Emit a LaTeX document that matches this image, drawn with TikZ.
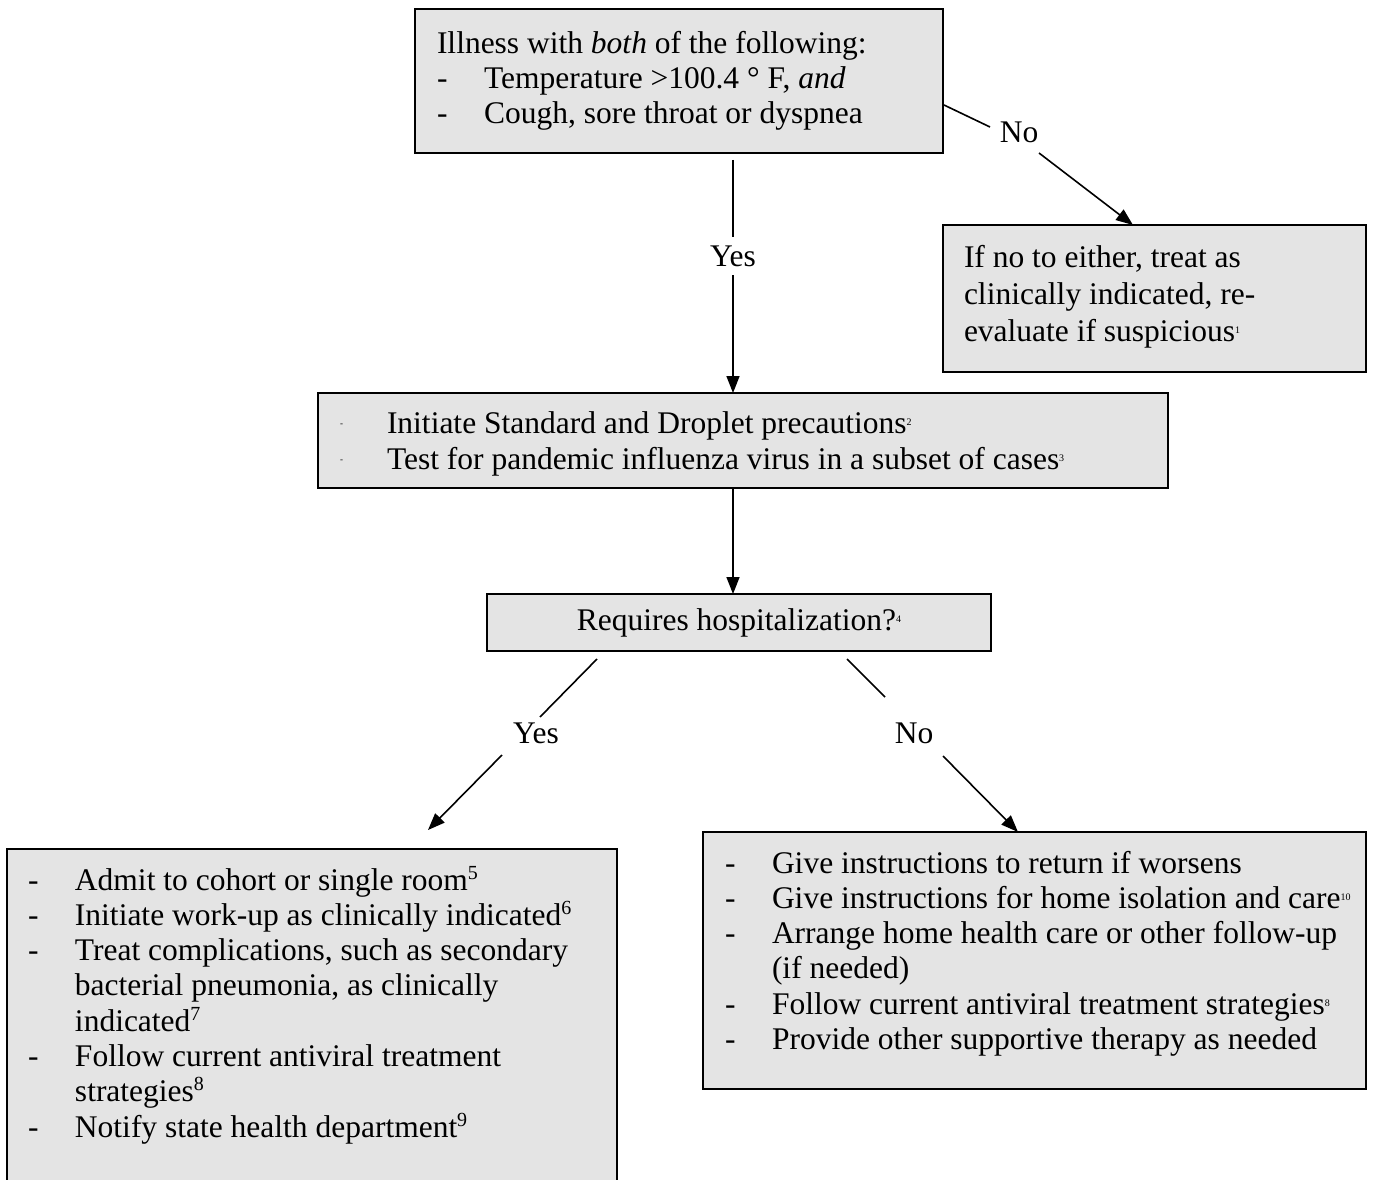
\documentclass[tikz,border=0pt]{standalone}
\usepackage{fontspec}
\setmainfont{Liberation Serif}
\usetikzlibrary{arrows.meta}
\definecolor{boxgray}{RGB}{228,228,228}
\newcommand\smsup[1]{\raisebox{8pt}{\fontsize{10}{10}\selectfont #1}}
\newcommand\bgsup[1]{\raisebox{11pt}{\fontsize{20}{20}\selectfont #1}}
\newcommand\itm{\makebox[47pt][l]{-}}
\newcommand\cnt{\hspace*{47pt}}
\newcommand\dotitm{\makebox[47pt][l]{\raisebox{7pt}{\fontsize{9}{9}\selectfont -}}}
\newcommand\firstl[1]{\rule{0pt}{#1pt}}
% width, height, left pad, line pitch, content
\newcommand\boxtext[5]{\begin{minipage}[t][#2][t]{#1}\fontsize{31.5}{#4}\selectfont\raggedright\leftskip=#3\relax #5\end{minipage}}
\tikzset{
  box/.style={draw, fill=boxgray, line width=1.8pt, anchor=north west, inner sep=0pt, outer sep=0pt},
  lbl/.style={inner sep=0pt, font=\fontsize{31.5}{35}\selectfont},
  ln/.style={line width=1.6pt},
  arr/.style={line width=1.6pt, -{Triangle[length=17pt,width=13pt]}}
}
\begin{document}
\begin{tikzpicture}[x=1pt,y=-1pt]
\useasboundingbox (0,0) rectangle (1377,1180);

% boxes
\node[box] (top) at (415,9) {\boxtext{528pt}{144pt}{22pt}{35pt}{\firstl{45}Illness with \textit{both} of the following:\\
\itm Temperature >100.4 ° F, \textit{and}\\
\itm Cough, sore throat or dyspnea}};

\node[box] (ifno) at (943,225) {\boxtext{423pt}{147pt}{21pt}{37pt}{\firstl{42}If no to either, treat as\\
clinically indicated, re-\\
evaluate if suspicious\smsup{1}}};

\node[box] (mid) at (318,393) {\boxtext{850pt}{95pt}{22pt}{36.5pt}{\firstl{40}\dotitm Initiate Standard and Droplet precautions\smsup{2}\\
\dotitm Test for pandemic influenza virus in a subset of cases\smsup{3}}};

\node[box, minimum width=504pt, minimum height=57pt, font=\fontsize{31.5}{35}\selectfont] (req) at (487,594) {Requires hospitalization?\smsup{4}};

\node[box] (hosp) at (7,849) {\boxtext{610pt}{340pt}{21pt}{35.3pt}{\firstl{41}\itm Admit to cohort or single room\bgsup{5}\\
\itm Initiate work-up as clinically indicated\bgsup{6}\\
\itm Treat complications, such as secondary\\
\cnt bacterial pneumonia, as clinically\\
\cnt indicated\bgsup{7}\\
\itm Follow current antiviral treatment\\
\cnt strategies\bgsup{8}\\
\itm Notify state health department\bgsup{9}}};

\node[box] (home) at (703,832) {\boxtext{663pt}{257pt}{22pt}{35.3pt}{\firstl{41}\itm Give instructions to return if worsens\\
\itm Give instructions for home isolation and care\smsup{10}\\
\itm Arrange home health care or other follow-up\\
\cnt (if needed)\\
\itm Follow current antiviral treatment strategies\smsup{8}\\
\itm Provide other supportive therapy as needed}};

% labels
\node[lbl] (yes1) at (733,256) {Yes};
\node[lbl] (no1) at (1019,132) {No};
\node[lbl] (yes2) at (536,733) {Yes};
\node[lbl] (no2) at (914,733) {No};

% connector end points
\coordinate (cx) at (733,0);
\coordinate (y1a) at (733,160);
\coordinate (y1b) at (733,237);
\coordinate (y1c) at (733,275);
\coordinate (n1a) at (944,105);
\coordinate (n1b) at (990,127);
\coordinate (n1c) at (1039,153);
\coordinate (n1d) at (1133,225);
\coordinate (y2a) at (597,659);
\coordinate (y2b) at (540,717);
\coordinate (y2c) at (502,755);
\coordinate (y2d) at (428,830);
\coordinate (n2a) at (847,659);
\coordinate (n2b) at (885,697);
\coordinate (n2c) at (943,756);
\coordinate (n2d) at (1018,832);

% connectors
\draw[ln] (y1a) -- (y1b);
\draw[arr] (y1c) -- (mid.north -| cx);
\draw[ln] (n1a) -- (n1b);
\draw[arr] (n1c) -- (ifno.north -| n1d);
\draw[arr] (mid.south -| cx) -- (req.north -| cx);
\draw[ln] (y2a) -- (y2b);
\draw[arr] (y2c) -- (y2d);
\draw[ln] (n2a) -- (n2b);
\draw[arr] (n2c) -- (home.north -| n2d);
\end{tikzpicture}
\end{document}
